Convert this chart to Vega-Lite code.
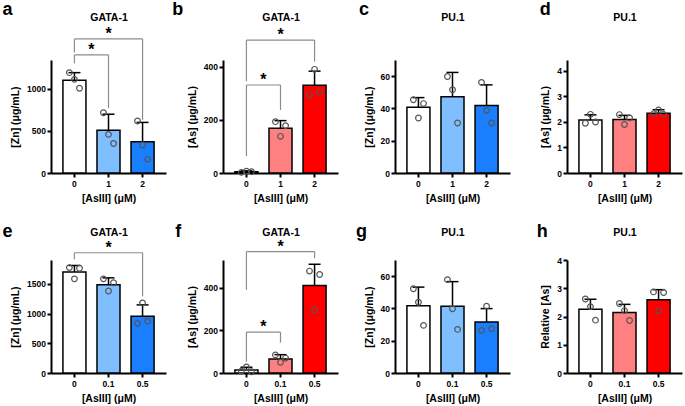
{
"$schema":"https://vega.github.io/schema/vega-lite/v6.json",
"padding":{"left":2,"top":0,"right":2,"bottom":0},
"background":"white",
"datasets":{
"bars":[
{"p":"a","x":"0","lvl":"L0","mean":1100,"hi":1190},
{"p":"a","x":"1","lvl":"L1","mean":508,"hi":697},
{"p":"a","x":"2","lvl":"L2","mean":370,"hi":600},
{"p":"b","x":"0","lvl":"L0","mean":5,"hi":8},
{"p":"b","x":"1","lvl":"L1","mean":168,"hi":197},
{"p":"b","x":"2","lvl":"L2","mean":330,"hi":383},
{"p":"c","x":"0","lvl":"L0","mean":40.7,"hi":46.7},
{"p":"c","x":"1","lvl":"L1","mean":47.3,"hi":62.3},
{"p":"c","x":"2","lvl":"L2","mean":41.8,"hi":54.6},
{"p":"d","x":"0","lvl":"L0","mean":2.08,"hi":2.28},
{"p":"d","x":"1","lvl":"L1","mean":2.1,"hi":2.26},
{"p":"d","x":"2","lvl":"L2","mean":2.34,"hi":2.48},
{"p":"e","x":"0","lvl":"L0","mean":1700,"hi":1808},
{"p":"e","x":"0.1","lvl":"L1","mean":1485,"hi":1600},
{"p":"e","x":"0.5","lvl":"L2","mean":955,"hi":1145},
{"p":"f","x":"0","lvl":"L0","mean":14,"hi":27},
{"p":"f","x":"0.1","lvl":"L1","mean":66,"hi":86},
{"p":"f","x":"0.5","lvl":"L2","mean":410,"hi":510},
{"p":"g","x":"0","lvl":"L0","mean":41.6,"hi":53.2},
{"p":"g","x":"0.1","lvl":"L1","mean":41.3,"hi":56.6},
{"p":"g","x":"0.5","lvl":"L2","mean":31.6,"hi":39.9},
{"p":"h","x":"0","lvl":"L0","mean":2.26,"hi":2.61},
{"p":"h","x":"0.1","lvl":"L1","mean":2.14,"hi":2.43},
{"p":"h","x":"0.5","lvl":"L2","mean":2.59,"hi":2.95}
],
"pts":[
{"p":"a","x":"0","rep":"1","v":1190},{"p":"a","x":"0","rep":"2","v":1110},{"p":"a","x":"0","rep":"3","v":1005},
{"p":"a","x":"1","rep":"1","v":715},{"p":"a","x":"1","rep":"2","v":458},{"p":"a","x":"1","rep":"3","v":350},
{"p":"a","x":"2","rep":"1","v":617},{"p":"a","x":"2","rep":"2","v":332},{"p":"a","x":"2","rep":"3","v":162},
{"p":"b","x":"0","rep":"1","v":2.5},{"p":"b","x":"0","rep":"2","v":6.5},{"p":"b","x":"0","rep":"3","v":5},
{"p":"b","x":"1","rep":"1","v":193},{"p":"b","x":"1","rep":"2","v":138},{"p":"b","x":"1","rep":"3","v":178},
{"p":"b","x":"2","rep":"1","v":295},{"p":"b","x":"2","rep":"2","v":390},{"p":"b","x":"2","rep":"3","v":305},
{"p":"c","x":"0","rep":"1","v":45.4},{"p":"c","x":"0","rep":"2","v":34.1},{"p":"c","x":"0","rep":"3","v":43},
{"p":"c","x":"1","rep":"1","v":59.8},{"p":"c","x":"1","rep":"2","v":51.6},{"p":"c","x":"1","rep":"3","v":31},
{"p":"c","x":"2","rep":"1","v":56.1},{"p":"c","x":"2","rep":"2","v":38.8},{"p":"c","x":"2","rep":"3","v":31},
{"p":"d","x":"0","rep":"1","v":1.95},{"p":"d","x":"0","rep":"2","v":2.3},{"p":"d","x":"0","rep":"3","v":2.0},
{"p":"d","x":"1","rep":"1","v":2.29},{"p":"d","x":"1","rep":"2","v":1.9},{"p":"d","x":"1","rep":"3","v":2.16},
{"p":"d","x":"2","rep":"1","v":2.32},{"p":"d","x":"2","rep":"2","v":2.47},{"p":"d","x":"2","rep":"3","v":2.3},
{"p":"e","x":"0","rep":"1","v":1772},{"p":"e","x":"0","rep":"2","v":1583},{"p":"e","x":"0","rep":"3","v":1761},
{"p":"e","x":"0.1","rep":"1","v":1583},{"p":"e","x":"0.1","rep":"2","v":1378},{"p":"e","x":"0.1","rep":"3","v":1517},
{"p":"e","x":"0.5","rep":"1","v":833},{"p":"e","x":"0.5","rep":"2","v":1178},{"p":"e","x":"0.5","rep":"3","v":872},
{"p":"f","x":"0","rep":"1","v":9},{"p":"f","x":"0","rep":"2","v":28},{"p":"f","x":"0","rep":"3","v":6},
{"p":"f","x":"0.1","rep":"1","v":85},{"p":"f","x":"0.1","rep":"2","v":50},{"p":"f","x":"0.1","rep":"3","v":70},
{"p":"f","x":"0.5","rep":"1","v":478},{"p":"f","x":"0.5","rep":"2","v":296},{"p":"f","x":"0.5","rep":"3","v":462},
{"p":"g","x":"0","rep":"1","v":52.2},{"p":"g","x":"0","rep":"2","v":43.8},{"p":"g","x":"0","rep":"3","v":29.5},
{"p":"g","x":"0.1","rep":"1","v":57.8},{"p":"g","x":"0.1","rep":"2","v":39.8},{"p":"g","x":"0.1","rep":"3","v":27},
{"p":"g","x":"0.5","rep":"1","v":26.4},{"p":"g","x":"0.5","rep":"2","v":41.4},{"p":"g","x":"0.5","rep":"3","v":27.5},
{"p":"h","x":"0","rep":"1","v":2.62},{"p":"h","x":"0","rep":"2","v":2.35},{"p":"h","x":"0","rep":"3","v":1.87},
{"p":"h","x":"0.1","rep":"1","v":2.46},{"p":"h","x":"0.1","rep":"2","v":2.21},{"p":"h","x":"0.1","rep":"3","v":1.86},
{"p":"h","x":"0.5","rep":"1","v":2.87},{"p":"h","x":"0.5","rep":"2","v":2.21},{"p":"h","x":"0.5","rep":"3","v":2.85}
],
"br":[
{"p":"a","from":"0","to":"1","mid":"0","adj":1,"top":1400,"lf":1300,"lt":770},
{"p":"a","from":"0","to":"2","mid":"1","adj":0,"top":1590,"lf":1430,"lt":630},
{"p":"b","from":"0","to":"1","mid":"0","adj":1,"top":331,"lf":64,"lt":237},
{"p":"b","from":"0","to":"2","mid":"1","adj":0,"top":500,"lf":345,"lt":419},
{"p":"e","from":"0","to":"0.5","mid":"0.1","adj":0,"top":2022,"lf":1910,"lt":1290},
{"p":"f","from":"0","to":"0.1","mid":"0","adj":1,"top":192,"lf":53,"lt":143},
{"p":"f","from":"0","to":"0.5","mid":"0.1","adj":0,"top":569,"lf":390,"lt":538}
]
},
"columns":4,
"spacing":{"row":87,"column":57},
"bounds":"flush",
"concat":[
{"width":115,"height":113,"title":{"text":"a","dx":-8,"offset":-6.5},"resolve":{"axis":{"x":"independent","y":"independent"}},
"layer":[
{"data":{"name":"bars"},"transform":[{"filter":"datum.p=='a'"}],"mark":{"type":"bar","stroke":"#000","strokeWidth":1.5,"width":{"band":1}},
"encoding":{"x":{"field":"x","type":"nominal","scale":{"domain":["0","1","2"],"paddingInner":0.324,"paddingOuter":0.35},"axis":{"title":"[AsIII] (μM)"}},
"y":{"field":"mean","type":"quantitative","scale":{"domain":[0,1340],"nice":false},"axis":{"title":"[Zn] (μg/mL)","values":[0,500,1000],"format":"d"}},
"fill":{"field":"lvl","type":"nominal","scale":{"domain":["L0","L1","L2"],"range":["#ffffff","#80bfff","#1a7fff"]},"legend":null}}},
{"data":{"name":"bars"},"transform":[{"filter":"datum.p=='a'"}],"mark":{"type":"rule","color":"#000","strokeWidth":1.5},
"encoding":{"x":{"field":"x","type":"nominal","axis":null},"y":{"field":"mean","type":"quantitative","axis":null},"y2":{"field":"hi"}}},
{"data":{"name":"bars"},"transform":[{"filter":"datum.p=='a'"}],"mark":{"type":"tick","color":"#000","thickness":1.5,"size":12,"opacity":1},
"encoding":{"x":{"field":"x","type":"nominal","axis":{"orient":"top","title":"GATA-1","labels":false,"ticks":false,"domain":false,"titlePadding":38}},"y":{"field":"hi","type":"quantitative","axis":null}}},
{"data":{"name":"pts"},"transform":[{"filter":"datum.p=='a' && datum.rep=='1'"}],"mark":{"type":"point","filled":false,"color":"#555","strokeWidth":1.2,"size":32,"opacity":1},
"encoding":{"x":{"field":"x","type":"nominal","bandPosition":0.28,"axis":null},"y":{"field":"v","type":"quantitative","axis":null}}},
{"data":{"name":"pts"},"transform":[{"filter":"datum.p=='a' && datum.rep=='2'"}],"mark":{"type":"point","filled":false,"color":"#555","strokeWidth":1.2,"size":32,"opacity":1},
"encoding":{"x":{"field":"x","type":"nominal","bandPosition":0.5,"axis":null},"y":{"field":"v","type":"quantitative","axis":null}}},
{"data":{"name":"pts"},"transform":[{"filter":"datum.p=='a' && datum.rep=='3'"}],"mark":{"type":"point","filled":false,"color":"#555","strokeWidth":1.2,"size":32,"opacity":1},
"encoding":{"x":{"field":"x","type":"nominal","bandPosition":0.72,"axis":null},"y":{"field":"v","type":"quantitative","axis":null}}},
{"data":{"name":"br"},"transform":[{"filter":"datum.p=='a'"}],"mark":{"type":"rule","color":"#8c8c8c","strokeWidth":1.2},
"encoding":{"x":{"field":"from","type":"nominal","axis":null},"x2":{"field":"to"},"y":{"field":"top","type":"quantitative","axis":null}}},
{"data":{"name":"br"},"transform":[{"filter":"datum.p=='a'"}],"mark":{"type":"rule","color":"#8c8c8c","strokeWidth":1.2},
"encoding":{"x":{"field":"from","type":"nominal","axis":null},"y":{"field":"lf","type":"quantitative","axis":null},"y2":{"field":"top"}}},
{"data":{"name":"br"},"transform":[{"filter":"datum.p=='a'"}],"mark":{"type":"rule","color":"#8c8c8c","strokeWidth":1.2},
"encoding":{"x":{"field":"to","type":"nominal","axis":null},"y":{"field":"lt","type":"quantitative","axis":null},"y2":{"field":"top"}}},
{"data":{"name":"br"},"transform":[{"filter":"datum.p=='a' && datum.adj==1"}],"mark":{"type":"text","text":"*","fontSize":16,"fontWeight":"bold","baseline":"alphabetic","color":"#000"},
"encoding":{"x":{"field":"from","type":"nominal","bandPosition":1.24,"axis":null},"y":{"field":"top","type":"quantitative","axis":null}}},
{"data":{"name":"br"},"transform":[{"filter":"datum.p=='a' && datum.adj==0"}],"mark":{"type":"text","text":"*","fontSize":16,"fontWeight":"bold","baseline":"alphabetic","color":"#000"},
"encoding":{"x":{"field":"mid","type":"nominal","axis":null},"y":{"field":"top","type":"quantitative","axis":null}}}
]},
{"width":115,"height":113,"title":{"text":"b","dx":-15,"offset":-6.5},"resolve":{"axis":{"x":"independent","y":"independent"}},
"layer":[
{"data":{"name":"bars"},"transform":[{"filter":"datum.p=='b'"}],"mark":{"type":"bar","stroke":"#000","strokeWidth":1.5,"width":{"band":1}},
"encoding":{"x":{"field":"x","type":"nominal","scale":{"domain":["0","1","2"],"paddingInner":0.324,"paddingOuter":0.35},"axis":{"title":"[AsIII] (μM)"}},
"y":{"field":"mean","type":"quantitative","scale":{"domain":[0,425],"nice":false},"axis":{"title":"[As] (μg/mL)","values":[0,200,400],"format":"d"}},
"color":{"field":"lvl","type":"nominal","scale":{"domain":["L0","L1","L2"],"range":["#ffffff","#ff8080","#ff0000"]},"legend":null}}},
{"data":{"name":"bars"},"transform":[{"filter":"datum.p=='b'"}],"mark":{"type":"rule","color":"#000","strokeWidth":1.5},
"encoding":{"x":{"field":"x","type":"nominal","axis":null},"y":{"field":"mean","type":"quantitative","axis":null},"y2":{"field":"hi"}}},
{"data":{"name":"bars"},"transform":[{"filter":"datum.p=='b'"}],"mark":{"type":"tick","color":"#000","thickness":1.5,"size":12,"opacity":1},
"encoding":{"x":{"field":"x","type":"nominal","axis":{"orient":"top","title":"GATA-1","labels":false,"ticks":false,"domain":false,"titlePadding":38}},"y":{"field":"hi","type":"quantitative","axis":null}}},
{"data":{"name":"pts"},"transform":[{"filter":"datum.p=='b' && datum.rep=='1'"}],"mark":{"type":"point","filled":false,"color":"#555","strokeWidth":1.2,"size":32,"opacity":1},
"encoding":{"x":{"field":"x","type":"nominal","bandPosition":0.28,"axis":null},"y":{"field":"v","type":"quantitative","axis":null}}},
{"data":{"name":"pts"},"transform":[{"filter":"datum.p=='b' && datum.rep=='2'"}],"mark":{"type":"point","filled":false,"color":"#555","strokeWidth":1.2,"size":32,"opacity":1},
"encoding":{"x":{"field":"x","type":"nominal","bandPosition":0.5,"axis":null},"y":{"field":"v","type":"quantitative","axis":null}}},
{"data":{"name":"pts"},"transform":[{"filter":"datum.p=='b' && datum.rep=='3'"}],"mark":{"type":"point","filled":false,"color":"#555","strokeWidth":1.2,"size":32,"opacity":1},
"encoding":{"x":{"field":"x","type":"nominal","bandPosition":0.72,"axis":null},"y":{"field":"v","type":"quantitative","axis":null}}},
{"data":{"name":"br"},"transform":[{"filter":"datum.p=='b'"}],"mark":{"type":"rule","color":"#8c8c8c","strokeWidth":1.2},
"encoding":{"x":{"field":"from","type":"nominal","axis":null},"x2":{"field":"to"},"y":{"field":"top","type":"quantitative","axis":null}}},
{"data":{"name":"br"},"transform":[{"filter":"datum.p=='b'"}],"mark":{"type":"rule","color":"#8c8c8c","strokeWidth":1.2},
"encoding":{"x":{"field":"from","type":"nominal","axis":null},"y":{"field":"lf","type":"quantitative","axis":null},"y2":{"field":"top"}}},
{"data":{"name":"br"},"transform":[{"filter":"datum.p=='b'"}],"mark":{"type":"rule","color":"#8c8c8c","strokeWidth":1.2},
"encoding":{"x":{"field":"to","type":"nominal","axis":null},"y":{"field":"lt","type":"quantitative","axis":null},"y2":{"field":"top"}}},
{"data":{"name":"br"},"transform":[{"filter":"datum.p=='b' && datum.adj==1"}],"mark":{"type":"text","text":"*","fontSize":16,"fontWeight":"bold","baseline":"alphabetic","color":"#000"},
"encoding":{"x":{"field":"from","type":"nominal","bandPosition":1.24,"axis":null},"y":{"field":"top","type":"quantitative","axis":null}}},
{"data":{"name":"br"},"transform":[{"filter":"datum.p=='b' && datum.adj==0"}],"mark":{"type":"text","text":"*","fontSize":16,"fontWeight":"bold","baseline":"alphabetic","color":"#000"},
"encoding":{"x":{"field":"mid","type":"nominal","axis":null},"y":{"field":"top","type":"quantitative","axis":null}}}
]},
{"width":115,"height":113,"title":{"text":"c","dx":-5,"offset":-6.5},"resolve":{"axis":{"x":"independent","y":"independent"}},
"layer":[
{"data":{"name":"bars"},"transform":[{"filter":"datum.p=='c'"}],"mark":{"type":"bar","stroke":"#000","strokeWidth":1.5,"width":{"band":1}},
"encoding":{"x":{"field":"x","type":"nominal","scale":{"domain":["0","1","2"],"paddingInner":0.324,"paddingOuter":0.35},"axis":{"title":"[AsIII] (μM)"}},
"y":{"field":"mean","type":"quantitative","scale":{"domain":[0,70],"nice":false},"axis":{"title":"[Zn] (μg/mL)","values":[0,20,40,60],"format":"d"}},
"fill":{"field":"lvl","type":"nominal","scale":{"domain":["L0","L1","L2"],"range":["#ffffff","#80bfff","#1a7fff"]},"legend":null}}},
{"data":{"name":"bars"},"transform":[{"filter":"datum.p=='c'"}],"mark":{"type":"rule","color":"#000","strokeWidth":1.5},
"encoding":{"x":{"field":"x","type":"nominal","axis":null},"y":{"field":"mean","type":"quantitative","axis":null},"y2":{"field":"hi"}}},
{"data":{"name":"bars"},"transform":[{"filter":"datum.p=='c'"}],"mark":{"type":"tick","color":"#000","thickness":1.5,"size":12,"opacity":1},
"encoding":{"x":{"field":"x","type":"nominal","axis":{"orient":"top","title":"PU.1","labels":false,"ticks":false,"domain":false,"titlePadding":38}},"y":{"field":"hi","type":"quantitative","axis":null}}},
{"data":{"name":"pts"},"transform":[{"filter":"datum.p=='c' && datum.rep=='1'"}],"mark":{"type":"point","filled":false,"color":"#555","strokeWidth":1.2,"size":32,"opacity":1},
"encoding":{"x":{"field":"x","type":"nominal","bandPosition":0.28,"axis":null},"y":{"field":"v","type":"quantitative","axis":null}}},
{"data":{"name":"pts"},"transform":[{"filter":"datum.p=='c' && datum.rep=='2'"}],"mark":{"type":"point","filled":false,"color":"#555","strokeWidth":1.2,"size":32,"opacity":1},
"encoding":{"x":{"field":"x","type":"nominal","bandPosition":0.5,"axis":null},"y":{"field":"v","type":"quantitative","axis":null}}},
{"data":{"name":"pts"},"transform":[{"filter":"datum.p=='c' && datum.rep=='3'"}],"mark":{"type":"point","filled":false,"color":"#555","strokeWidth":1.2,"size":32,"opacity":1},
"encoding":{"x":{"field":"x","type":"nominal","bandPosition":0.72,"axis":null},"y":{"field":"v","type":"quantitative","axis":null}}}
]},
{"width":115,"height":113,"title":{"text":"d","dx":-1,"offset":-6.5},"resolve":{"axis":{"x":"independent","y":"independent"}},
"layer":[
{"data":{"name":"bars"},"transform":[{"filter":"datum.p=='d'"}],"mark":{"type":"bar","stroke":"#000","strokeWidth":1.5,"width":{"band":1}},
"encoding":{"x":{"field":"x","type":"nominal","scale":{"domain":["0","1","2"],"paddingInner":0.324,"paddingOuter":0.35},"axis":{"title":"[AsIII] (μM)"}},
"y":{"field":"mean","type":"quantitative","scale":{"domain":[0,4.43],"nice":false},"axis":{"title":"[As] (μg/mL)","values":[0,1,2,3,4],"format":"d"}},
"color":{"field":"lvl","type":"nominal","scale":{"domain":["L0","L1","L2"],"range":["#ffffff","#ff8080","#ff0000"]},"legend":null}}},
{"data":{"name":"bars"},"transform":[{"filter":"datum.p=='d'"}],"mark":{"type":"rule","color":"#000","strokeWidth":1.5},
"encoding":{"x":{"field":"x","type":"nominal","axis":null},"y":{"field":"mean","type":"quantitative","axis":null},"y2":{"field":"hi"}}},
{"data":{"name":"bars"},"transform":[{"filter":"datum.p=='d'"}],"mark":{"type":"tick","color":"#000","thickness":1.5,"size":12,"opacity":1},
"encoding":{"x":{"field":"x","type":"nominal","axis":{"orient":"top","title":"PU.1","labels":false,"ticks":false,"domain":false,"titlePadding":38}},"y":{"field":"hi","type":"quantitative","axis":null}}},
{"data":{"name":"pts"},"transform":[{"filter":"datum.p=='d' && datum.rep=='1'"}],"mark":{"type":"point","filled":false,"color":"#555","strokeWidth":1.2,"size":32,"opacity":1},
"encoding":{"x":{"field":"x","type":"nominal","bandPosition":0.28,"axis":null},"y":{"field":"v","type":"quantitative","axis":null}}},
{"data":{"name":"pts"},"transform":[{"filter":"datum.p=='d' && datum.rep=='2'"}],"mark":{"type":"point","filled":false,"color":"#555","strokeWidth":1.2,"size":32,"opacity":1},
"encoding":{"x":{"field":"x","type":"nominal","bandPosition":0.5,"axis":null},"y":{"field":"v","type":"quantitative","axis":null}}},
{"data":{"name":"pts"},"transform":[{"filter":"datum.p=='d' && datum.rep=='3'"}],"mark":{"type":"point","filled":false,"color":"#555","strokeWidth":1.2,"size":32,"opacity":1},
"encoding":{"x":{"field":"x","type":"nominal","bandPosition":0.72,"axis":null},"y":{"field":"v","type":"quantitative","axis":null}}}
]},
{"width":115,"height":113,"title":{"text":"e","dx":-8,"offset":-13.5},"resolve":{"axis":{"x":"independent","y":"independent"}},
"layer":[
{"data":{"name":"bars"},"transform":[{"filter":"datum.p=='e'"}],"mark":{"type":"bar","stroke":"#000","strokeWidth":1.5,"width":{"band":1}},
"encoding":{"x":{"field":"x","type":"nominal","scale":{"domain":["0","0.1","0.5"],"paddingInner":0.324,"paddingOuter":0.35},"axis":{"title":"[AsIII] (μM)"}},
"y":{"field":"mean","type":"quantitative","scale":{"domain":[0,1900],"nice":false},"axis":{"title":"[Zn] (μg/mL)","values":[0,500,1000,1500],"format":"d"}},
"fill":{"field":"lvl","type":"nominal","scale":{"domain":["L0","L1","L2"],"range":["#ffffff","#80bfff","#1a7fff"]},"legend":null}}},
{"data":{"name":"bars"},"transform":[{"filter":"datum.p=='e'"}],"mark":{"type":"rule","color":"#000","strokeWidth":1.5},
"encoding":{"x":{"field":"x","type":"nominal","axis":null},"y":{"field":"mean","type":"quantitative","axis":null},"y2":{"field":"hi"}}},
{"data":{"name":"bars"},"transform":[{"filter":"datum.p=='e'"}],"mark":{"type":"tick","color":"#000","thickness":1.5,"size":12,"opacity":1},
"encoding":{"x":{"field":"x","type":"nominal","axis":{"orient":"top","title":"GATA-1","labels":false,"ticks":false,"domain":false,"titlePadding":23}},"y":{"field":"hi","type":"quantitative","axis":null}}},
{"data":{"name":"pts"},"transform":[{"filter":"datum.p=='e' && datum.rep=='1'"}],"mark":{"type":"point","filled":false,"color":"#555","strokeWidth":1.2,"size":32,"opacity":1},
"encoding":{"x":{"field":"x","type":"nominal","bandPosition":0.28,"axis":null},"y":{"field":"v","type":"quantitative","axis":null}}},
{"data":{"name":"pts"},"transform":[{"filter":"datum.p=='e' && datum.rep=='2'"}],"mark":{"type":"point","filled":false,"color":"#555","strokeWidth":1.2,"size":32,"opacity":1},
"encoding":{"x":{"field":"x","type":"nominal","bandPosition":0.5,"axis":null},"y":{"field":"v","type":"quantitative","axis":null}}},
{"data":{"name":"pts"},"transform":[{"filter":"datum.p=='e' && datum.rep=='3'"}],"mark":{"type":"point","filled":false,"color":"#555","strokeWidth":1.2,"size":32,"opacity":1},
"encoding":{"x":{"field":"x","type":"nominal","bandPosition":0.72,"axis":null},"y":{"field":"v","type":"quantitative","axis":null}}},
{"data":{"name":"br"},"transform":[{"filter":"datum.p=='e'"}],"mark":{"type":"rule","color":"#8c8c8c","strokeWidth":1.2},
"encoding":{"x":{"field":"from","type":"nominal","axis":null},"x2":{"field":"to"},"y":{"field":"top","type":"quantitative","axis":null}}},
{"data":{"name":"br"},"transform":[{"filter":"datum.p=='e'"}],"mark":{"type":"rule","color":"#8c8c8c","strokeWidth":1.2},
"encoding":{"x":{"field":"from","type":"nominal","axis":null},"y":{"field":"lf","type":"quantitative","axis":null},"y2":{"field":"top"}}},
{"data":{"name":"br"},"transform":[{"filter":"datum.p=='e'"}],"mark":{"type":"rule","color":"#8c8c8c","strokeWidth":1.2},
"encoding":{"x":{"field":"to","type":"nominal","axis":null},"y":{"field":"lt","type":"quantitative","axis":null},"y2":{"field":"top"}}},
{"data":{"name":"br"},"transform":[{"filter":"datum.p=='e' && datum.adj==0"}],"mark":{"type":"text","text":"*","fontSize":16,"fontWeight":"bold","baseline":"alphabetic","color":"#000"},
"encoding":{"x":{"field":"mid","type":"nominal","axis":null},"y":{"field":"top","type":"quantitative","axis":null}}}
]},
{"width":115,"height":113,"title":{"text":"f","dx":-12,"offset":-13.5},"resolve":{"axis":{"x":"independent","y":"independent"}},
"layer":[
{"data":{"name":"bars"},"transform":[{"filter":"datum.p=='f'"}],"mark":{"type":"bar","stroke":"#000","strokeWidth":1.5,"width":{"band":1}},
"encoding":{"x":{"field":"x","type":"nominal","scale":{"domain":["0","0.1","0.5"],"paddingInner":0.324,"paddingOuter":0.35},"axis":{"title":"[AsIII] (μM)"}},
"y":{"field":"mean","type":"quantitative","scale":{"domain":[0,530],"nice":false},"axis":{"title":"[As] (μg/mL)","values":[0,200,400],"format":"d"}},
"color":{"field":"lvl","type":"nominal","scale":{"domain":["L0","L1","L2"],"range":["#ffffff","#ff8080","#ff0000"]},"legend":null}}},
{"data":{"name":"bars"},"transform":[{"filter":"datum.p=='f'"}],"mark":{"type":"rule","color":"#000","strokeWidth":1.5},
"encoding":{"x":{"field":"x","type":"nominal","axis":null},"y":{"field":"mean","type":"quantitative","axis":null},"y2":{"field":"hi"}}},
{"data":{"name":"bars"},"transform":[{"filter":"datum.p=='f'"}],"mark":{"type":"tick","color":"#000","thickness":1.5,"size":12,"opacity":1},
"encoding":{"x":{"field":"x","type":"nominal","axis":{"orient":"top","title":"GATA-1","labels":false,"ticks":false,"domain":false,"titlePadding":23}},"y":{"field":"hi","type":"quantitative","axis":null}}},
{"data":{"name":"pts"},"transform":[{"filter":"datum.p=='f' && datum.rep=='1'"}],"mark":{"type":"point","filled":false,"color":"#555","strokeWidth":1.2,"size":32,"opacity":1},
"encoding":{"x":{"field":"x","type":"nominal","bandPosition":0.28,"axis":null},"y":{"field":"v","type":"quantitative","axis":null}}},
{"data":{"name":"pts"},"transform":[{"filter":"datum.p=='f' && datum.rep=='2'"}],"mark":{"type":"point","filled":false,"color":"#555","strokeWidth":1.2,"size":32,"opacity":1},
"encoding":{"x":{"field":"x","type":"nominal","bandPosition":0.5,"axis":null},"y":{"field":"v","type":"quantitative","axis":null}}},
{"data":{"name":"pts"},"transform":[{"filter":"datum.p=='f' && datum.rep=='3'"}],"mark":{"type":"point","filled":false,"color":"#555","strokeWidth":1.2,"size":32,"opacity":1},
"encoding":{"x":{"field":"x","type":"nominal","bandPosition":0.72,"axis":null},"y":{"field":"v","type":"quantitative","axis":null}}},
{"data":{"name":"br"},"transform":[{"filter":"datum.p=='f'"}],"mark":{"type":"rule","color":"#8c8c8c","strokeWidth":1.2},
"encoding":{"x":{"field":"from","type":"nominal","axis":null},"x2":{"field":"to"},"y":{"field":"top","type":"quantitative","axis":null}}},
{"data":{"name":"br"},"transform":[{"filter":"datum.p=='f'"}],"mark":{"type":"rule","color":"#8c8c8c","strokeWidth":1.2},
"encoding":{"x":{"field":"from","type":"nominal","axis":null},"y":{"field":"lf","type":"quantitative","axis":null},"y2":{"field":"top"}}},
{"data":{"name":"br"},"transform":[{"filter":"datum.p=='f'"}],"mark":{"type":"rule","color":"#8c8c8c","strokeWidth":1.2},
"encoding":{"x":{"field":"to","type":"nominal","axis":null},"y":{"field":"lt","type":"quantitative","axis":null},"y2":{"field":"top"}}},
{"data":{"name":"br"},"transform":[{"filter":"datum.p=='f' && datum.adj==1"}],"mark":{"type":"text","text":"*","fontSize":16,"fontWeight":"bold","baseline":"alphabetic","color":"#000"},
"encoding":{"x":{"field":"from","type":"nominal","bandPosition":1.24,"axis":null},"y":{"field":"top","type":"quantitative","axis":null}}},
{"data":{"name":"br"},"transform":[{"filter":"datum.p=='f' && datum.adj==0"}],"mark":{"type":"text","text":"*","fontSize":16,"fontWeight":"bold","baseline":"alphabetic","color":"#000"},
"encoding":{"x":{"field":"mid","type":"nominal","axis":null},"y":{"field":"top","type":"quantitative","axis":null}}}
]},
{"width":115,"height":113,"title":{"text":"g","dx":-8,"offset":-13.5},"resolve":{"axis":{"x":"independent","y":"independent"}},
"layer":[
{"data":{"name":"bars"},"transform":[{"filter":"datum.p=='g'"}],"mark":{"type":"bar","stroke":"#000","strokeWidth":1.5,"width":{"band":1}},
"encoding":{"x":{"field":"x","type":"nominal","scale":{"domain":["0","0.1","0.5"],"paddingInner":0.324,"paddingOuter":0.35},"axis":{"title":"[AsIII] (μM)"}},
"y":{"field":"mean","type":"quantitative","scale":{"domain":[0,70],"nice":false},"axis":{"title":"[Zn] (μg/mL)","values":[0,20,40,60],"format":"d"}},
"fill":{"field":"lvl","type":"nominal","scale":{"domain":["L0","L1","L2"],"range":["#ffffff","#80bfff","#1a7fff"]},"legend":null}}},
{"data":{"name":"bars"},"transform":[{"filter":"datum.p=='g'"}],"mark":{"type":"rule","color":"#000","strokeWidth":1.5},
"encoding":{"x":{"field":"x","type":"nominal","axis":null},"y":{"field":"mean","type":"quantitative","axis":null},"y2":{"field":"hi"}}},
{"data":{"name":"bars"},"transform":[{"filter":"datum.p=='g'"}],"mark":{"type":"tick","color":"#000","thickness":1.5,"size":12,"opacity":1},
"encoding":{"x":{"field":"x","type":"nominal","axis":{"orient":"top","title":"PU.1","labels":false,"ticks":false,"domain":false,"titlePadding":23}},"y":{"field":"hi","type":"quantitative","axis":null}}},
{"data":{"name":"pts"},"transform":[{"filter":"datum.p=='g' && datum.rep=='1'"}],"mark":{"type":"point","filled":false,"color":"#555","strokeWidth":1.2,"size":32,"opacity":1},
"encoding":{"x":{"field":"x","type":"nominal","bandPosition":0.28,"axis":null},"y":{"field":"v","type":"quantitative","axis":null}}},
{"data":{"name":"pts"},"transform":[{"filter":"datum.p=='g' && datum.rep=='2'"}],"mark":{"type":"point","filled":false,"color":"#555","strokeWidth":1.2,"size":32,"opacity":1},
"encoding":{"x":{"field":"x","type":"nominal","bandPosition":0.5,"axis":null},"y":{"field":"v","type":"quantitative","axis":null}}},
{"data":{"name":"pts"},"transform":[{"filter":"datum.p=='g' && datum.rep=='3'"}],"mark":{"type":"point","filled":false,"color":"#555","strokeWidth":1.2,"size":32,"opacity":1},
"encoding":{"x":{"field":"x","type":"nominal","bandPosition":0.72,"axis":null},"y":{"field":"v","type":"quantitative","axis":null}}}
]},
{"width":115,"height":113,"title":{"text":"h","dx":-4,"offset":-13.5},"resolve":{"axis":{"x":"independent","y":"independent"}},
"layer":[
{"data":{"name":"bars"},"transform":[{"filter":"datum.p=='h'"}],"mark":{"type":"bar","stroke":"#000","strokeWidth":1.5,"width":{"band":1}},
"encoding":{"x":{"field":"x","type":"nominal","scale":{"domain":["0","0.1","0.5"],"paddingInner":0.324,"paddingOuter":0.35},"axis":{"title":"[AsIII] (μM)"}},
"y":{"field":"mean","type":"quantitative","scale":{"domain":[0,4],"nice":false},"axis":{"title":"Relative [As]","values":[0,1,2,3,4],"format":"d"}},
"color":{"field":"lvl","type":"nominal","scale":{"domain":["L0","L1","L2"],"range":["#ffffff","#ff8080","#ff0000"]},"legend":null}}},
{"data":{"name":"bars"},"transform":[{"filter":"datum.p=='h'"}],"mark":{"type":"rule","color":"#000","strokeWidth":1.5},
"encoding":{"x":{"field":"x","type":"nominal","axis":null},"y":{"field":"mean","type":"quantitative","axis":null},"y2":{"field":"hi"}}},
{"data":{"name":"bars"},"transform":[{"filter":"datum.p=='h'"}],"mark":{"type":"tick","color":"#000","thickness":1.5,"size":12,"opacity":1},
"encoding":{"x":{"field":"x","type":"nominal","axis":{"orient":"top","title":"PU.1","labels":false,"ticks":false,"domain":false,"titlePadding":23}},"y":{"field":"hi","type":"quantitative","axis":null}}},
{"data":{"name":"pts"},"transform":[{"filter":"datum.p=='h' && datum.rep=='1'"}],"mark":{"type":"point","filled":false,"color":"#555","strokeWidth":1.2,"size":32,"opacity":1},
"encoding":{"x":{"field":"x","type":"nominal","bandPosition":0.28,"axis":null},"y":{"field":"v","type":"quantitative","axis":null}}},
{"data":{"name":"pts"},"transform":[{"filter":"datum.p=='h' && datum.rep=='2'"}],"mark":{"type":"point","filled":false,"color":"#555","strokeWidth":1.2,"size":32,"opacity":1},
"encoding":{"x":{"field":"x","type":"nominal","bandPosition":0.5,"axis":null},"y":{"field":"v","type":"quantitative","axis":null}}},
{"data":{"name":"pts"},"transform":[{"filter":"datum.p=='h' && datum.rep=='3'"}],"mark":{"type":"point","filled":false,"color":"#555","strokeWidth":1.2,"size":32,"opacity":1},
"encoding":{"x":{"field":"x","type":"nominal","bandPosition":0.72,"axis":null},"y":{"field":"v","type":"quantitative","axis":null}}}
]}
],
"config":{
"font":"Liberation Sans",
"view":{"stroke":null},
"axis":{"grid":false,"labelFontWeight":"bold","labelFontSize":8.5,"labelColor":"#000","titleFontWeight":"bold","titleFontSize":10.5,"titleColor":"#000","domainColor":"#000","domainWidth":2,"tickColor":"#000","tickWidth":2,"tickSize":4,"labelFont":"Liberation Sans","titleFont":"Liberation Sans"},
"axisX":{"labelAngle":0,"labelPadding":2,"titlePadding":6},
"axisY":{"labelPadding":1.5,"titlePadding":6},
"title":{"fontSize":18,"fontWeight":"bold","anchor":"start","frame":"bounds","baseline":"alphabetic","color":"#000","font":"Liberation Sans"}
}
}
